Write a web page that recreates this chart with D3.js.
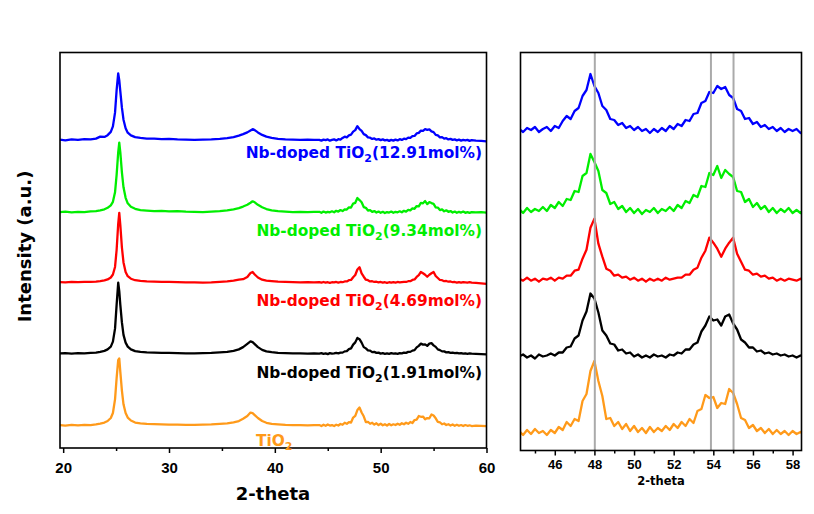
<!DOCTYPE html>
<html><head><meta charset="utf-8">
<script src="https://cdn.jsdelivr.net/npm/d3@7"></script>
<style>body{margin:0;background:#fff}svg{display:block}</style>
</head><body>
<svg id="chart" width="814" height="514"></svg>
<script>
// ---------- DATA ----------
const twoTheta = [
  19.7, 20.2, 20.8, 21.4, 22.0, 22.6,
  23.1, 23.5, 23.9, 24.2, 24.5, 24.7, 24.9, 25.05, 25.2, 25.3, 25.4, 25.55, 25.7, 25.9, 26.1, 26.4, 26.8, 27.3, 27.9,
  28.6, 29.3, 30.0, 30.8, 31.6, 32.4, 33.2, 34.0, 34.8, 35.5,
  36.1, 36.6, 37.0, 37.4, 37.7, 37.9, 38.1, 38.4, 38.8, 39.2, 39.7,
  40.3, 41.0, 41.7, 42.4, 43.1, 43.7,
  44.2, 44.4, 44.6, 44.8, 45.0, 45.2, 45.4, 45.6, 45.8, 46.0,
  46.2, 46.4, 46.6, 46.8, 47.0, 47.2, 47.4, 47.6, 47.8, 48.0,
  48.2, 48.4, 48.6, 48.8, 49.0, 49.2, 49.4, 49.6, 49.8, 50.0,
  50.2, 50.4, 50.6, 50.8, 51.0, 51.2, 51.4, 51.6, 51.8, 52.0,
  52.2, 52.4, 52.6, 52.8, 53.0, 53.2, 53.4, 53.6, 53.8, 54.0,
  54.2, 54.4, 54.6, 54.8, 55.0, 55.2, 55.4, 55.6, 55.8, 56.0,
  56.2, 56.4, 56.6, 56.8, 57.0, 57.2, 57.4, 57.6, 57.8, 58.0,
  58.2, 58.4, 58.6,
  59.0, 59.5, 60.0
];

const intensityNb1291 = [
  2, -1, 3, 1, 4, 3,
  6, 14, 13, 20, 33, 55, 110, 200, 267, 240, 195, 130, 82, 48, 30, 19, 12, 9, 6,
  6, 4, 5, 3, 2, 1, 2, 3, 5, 8,
  12, 18, 24, 31, 39, 44, 40, 31, 21, 14, 9,
  5, 3, 2, 1, 2, 1,
  1, -2, 2, 0, 3, -2, 1, 3, -1, 4,
  2, 9, 14, 11, 19, 22, 34, 40, 56, 44,
  37, 24, 20, 11, 10, 5, 7, 2, 4, 0,
  3, -1, 1, -3, 1, -2, 2, -1, 4, 1,
  6, 4, 10, 9, 16, 17, 27, 29, 38, 37,
  44, 41, 43, 35, 32, 21, 19, 11, 12, 6,
  8, 3, 5, 1, 3, -1, 2, -2, 1, -1,
  1, -3, 0,
  -2, -3, -5
];

const intensityNb934 = [
  1, 3, 0, 2, 1, 4,
  5, 8, 12, 18, 28, 42, 80, 150, 240, 279, 240, 160, 100, 58, 36, 22, 14, 9, 7,
  5, 6, 4, 5, 3, 2, 1, 3, 5, 8,
  12, 17, 23, 30, 38, 44, 40, 30, 20, 13, 8,
  5, 3, 1, 2, 1, 2,
  2, -2, 3, -1, 2, 0, 4, 0, 6, 3,
  9, 5, 12, 11, 20, 19, 35, 38, 57, 49,
  40, 21, 18, 7, 9, 2, 5, -1, 3, -2,
  2, -3, 1, -1, 3, -2, 2, 0, 4, 0,
  6, 3, 10, 8, 16, 14, 25, 24, 38, 36,
  45, 33, 41, 37, 34, 20, 19, 9, 12, 4,
  8, 2, 5, -1, 3, -2, 2, -1, 3, -2,
  1, -2, 1,
  0, 1, -1
];

const intensityNb469 = [
  1, 0, 2, 1, 2, 2,
  3, 5, 8, 12, 20, 32, 62, 130, 235, 279, 230, 140, 80, 42, 25, 15, 9, 6, 4,
  3, 2, 2, 1, 0, 0, -1, 0, 2, 4,
  7, 11, 13, 22, 38, 42, 32, 20, 11, 7, 5,
  3, 2, 1, 0, 1, 0,
  1, -1, 2, -1, 1, -2, 1, 0, 2, -1,
  2, 1, 4, 4, 9, 10, 21, 30, 52, 61,
  36, 23, 11, 9, 4, 5, 2, 3, 0, 2,
  -1, 1, -2, 1, -1, 1, -1, 2, 0, 1,
  2, 2, 5, 5, 10, 12, 22, 29, 42, 37,
  31, 23, 31, 37, 42, 26, 18, 10, 9, 5,
  6, 3, 4, 1, 2, -1, 1, -1, 1, 0,
  -1, 1, -1,
  -2, -4, -6
];

const intensityNb191 = [
  1, 2, 0, 2, 1, 3,
  4, 7, 11, 17, 28, 48, 100, 195, 284, 250, 195, 125, 75, 44, 28, 17, 10, 7, 5,
  4, 3, 3, 2, 1, 1, 2, 3, 5, 7,
  11, 17, 26, 39, 49, 46, 38, 26, 15, 9, 6,
  3, 2, 1, 1, 0, 1,
  0, 2, -1, 1, -2, 2, 0, 1, 3, 1,
  4, 4, 9, 10, 18, 21, 36, 45, 63, 58,
  44, 26, 21, 13, 12, 6, 7, 3, 4, 0,
  2, -1, 1, -1, 2, 0, 1, -1, 2, 1,
  4, 3, 7, 7, 12, 14, 25, 31, 40, 36,
  37, 31, 40, 42, 33, 27, 17, 14, 9, 9,
  5, 6, 3, 4, 2, 3, 1, 2, 0, 1,
  -1, 1, 0,
  -1, -2, -3
];

const intensityTiO2 = [
  2, 0, 3, 1, 3, 2,
  5, 8, 12, 18, 30, 50, 105, 190, 262, 269, 215, 140, 85, 50, 32, 20, 12, 9, 7,
  6, 5, 4, 4, 3, 3, 4, 5, 7, 9,
  13, 18, 27, 38, 52, 50, 42, 30, 18, 11, 7,
  5, 3, 2, 2, 1, 2,
  2, -2, 3, -1, 4, 0, 2, -2, 3, 0,
  6, 3, 11, 7, 14, 12, 32, 39, 62, 72,
  52, 37, 14, 15, 7, 11, 4, 9, 2, 7,
  1, 5, 0, 6, 1, 5, 2, 7, 3, 9,
  5, 11, 7, 14, 10, 22, 24, 38, 35, 36,
  25, 30, 29, 44, 40, 29, 15, 13, 5, 8,
  2, 5, 0, 4, -1, 3, -1, 2, -2, 2,
  -1, 1, -2,
  0, -1, -2
];

const labelMain = ["Nb-doped TiO", "Nb-doped TiO", "Nb-doped TiO", "Nb-doped TiO", "TiO"];
const labelSub = ["2", "2", "2", "2", "2"];
const labelTail = ["(12.91mol%)", "(9.34mol%)", "(4.69mol%)", "(1.91mol%)", ""];

const leftTicks = [20, 30, 40, 50, 60];
const leftMinorTicks = [25, 35, 45, 55];
const rightTicks = [46, 48, 50, 52, 54, 56, 58];
const rightMinorTicks = [45, 47, 49, 51, 53, 55, 57];
const refLines = [48.02, 53.88, 55.02];

// ---------- LAYOUT / STYLE ----------
const seriesValues = [intensityNb1291, intensityNb934, intensityNb469, intensityNb191, intensityTiO2];
const colors = ["#0000ff", "#00ee00", "#ff0000", "#000000", "#ff9a1a"];
const offsetLeft = [1233, 944, 663, 378, 90];      // vertical stacking (data units)
const offsetRight = [320.5, 239.5, 170.8, 94, 17.5];
const labelPos = [
  {x: 482, y: 158, anchor: "end"},
  {x: 482, y: 236, anchor: "end"},
  {x: 482, y: 306, anchor: "end"},
  {x: 482, y: 378, anchor: "end"},
  {x: 256, y: 446, anchor: "start"}
];

const L = {x0: 60, x1: 486.5, y0: 52.5, y1: 448};
const R = {x0: 520.5, x1: 801.5, y0: 52.5, y1: 450.5};

const xL = d3.scaleLinear().domain([19.7, 60]).range([L.x0, L.x1]);
const yL = d3.scaleLinear().domain([0, 1584]).range([L.y1, L.y0]);
const xR = d3.scaleLinear().domain([44.27, 58.45]).range([R.x0, R.x1]);
const yR = d3.scaleLinear().domain([0, 398]).range([R.y1, R.y0]);

const svg = d3.select("#chart");
svg.append("rect").attr("width", 814).attr("height", 514).attr("fill", "#fff");

const defs = svg.append("defs");
defs.append("clipPath").attr("id", "clipL").append("rect")
  .attr("x", L.x0).attr("y", L.y0).attr("width", L.x1 - L.x0).attr("height", L.y1 - L.y0);
defs.append("clipPath").attr("id", "clipR").append("rect")
  .attr("x", R.x0).attr("y", R.y0).attr("width", R.x1 - R.x0).attr("height", R.y1 - R.y0);

// ---------- LEFT PANEL ----------
const gL = svg.append("g").attr("clip-path", "url(#clipL)");
seriesValues.forEach((vals, i) => {
  const pts = twoTheta.map((t, k) => [t, vals[k]]);
  const line = d3.line().x(d => xL(d[0])).y(d => yL(d[1] + offsetLeft[i]));
  gL.append("path").attr("d", line(pts)).attr("fill", "none")
    .attr("stroke", colors[i]).attr("stroke-width", 2.3).attr("stroke-linejoin", "round");
});

// ---------- RIGHT PANEL ----------
const gR = svg.append("g").attr("clip-path", "url(#clipR)");
seriesValues.forEach((vals, i) => {
  const pts = twoTheta.map((t, k) => [t, vals[k]]).filter(d => d[0] >= 44 && d[0] <= 58.7);
  const line = d3.line().x(d => xR(d[0])).y(d => yR(d[1] + offsetRight[i]));
  gR.append("path").attr("d", line(pts)).attr("fill", "none")
    .attr("stroke", colors[i]).attr("stroke-width", 2.3).attr("stroke-linejoin", "round");
});
gR.selectAll("line.ref").data(refLines).enter().append("line")
  .attr("x1", d => xR(d)).attr("x2", d => xR(d))
  .attr("y1", R.y0).attr("y2", R.y1)
  .attr("stroke", "#aaaaaa").attr("stroke-width", 2);

// ---------- FRAMES ----------
svg.append("rect").attr("x", L.x0).attr("y", L.y0).attr("width", L.x1 - L.x0).attr("height", L.y1 - L.y0)
  .attr("fill", "none").attr("stroke", "#000").attr("stroke-width", 1.6);
svg.append("rect").attr("x", R.x0).attr("y", R.y0).attr("width", R.x1 - R.x0).attr("height", R.y1 - R.y0)
  .attr("fill", "none").attr("stroke", "#000").attr("stroke-width", 1.6);

// ---------- AXES ----------
function styleAxis(g, fontSize) {
  g.select(".domain").remove();
  g.selectAll(".tick line").attr("stroke", "#000").attr("stroke-width", 1.5);
  g.selectAll(".tick text").attr("fill", "#000")
    .style("font-family", "'Liberation Sans', Arial, sans-serif")
    .style("font-weight", "bold").style("font-size", fontSize + "px");
}
const axL = svg.append("g").attr("transform", `translate(0,${L.y1})`)
  .call(d3.axisBottom(xL).tickValues(leftTicks).tickSize(5).tickPadding(9.5).tickFormat(d3.format("d")));
styleAxis(axL, 15);
const axLm = svg.append("g").attr("transform", `translate(0,${L.y1})`)
  .call(d3.axisBottom(xL).tickValues(leftMinorTicks).tickSize(3).tickFormat(""));
styleAxis(axLm, 15);

const axR = svg.append("g").attr("transform", `translate(0,${R.y1})`)
  .call(d3.axisBottom(xR).tickValues(rightTicks).tickSize(5).tickPadding(4.6).tickFormat(d3.format("d")));
styleAxis(axR, 13);
const axRm = svg.append("g").attr("transform", `translate(0,${R.y1})`)
  .call(d3.axisBottom(xR).tickValues(rightMinorTicks).tickSize(3).tickFormat(""));
styleAxis(axRm, 13);

// ---------- TITLES ----------
const boldFont = "'DejaVu Sans', sans-serif";
svg.append("text").attr("x", 273).attr("y", 499.5).attr("text-anchor", "middle")
  .style("font-family", boldFont).style("font-weight", "bold").style("font-size", "18px")
  .text("2-theta");
svg.append("text").attr("x", 661).attr("y", 485).attr("text-anchor", "middle")
  .style("font-family", boldFont).style("font-weight", "bold").style("font-size", "11.5px")
  .text("2-theta");
svg.append("text").attr("transform", "translate(30.5,246.5) rotate(-90)").attr("text-anchor", "middle")
  .style("font-family", boldFont).style("font-weight", "bold").style("font-size", "18px")
  .text("Intensity (a.u.)");

// ---------- SERIES LABELS ----------
labelMain.forEach((m, i) => {
  const p = labelPos[i];
  const t = svg.append("text").attr("x", p.x).attr("y", p.y).attr("text-anchor", p.anchor)
    .attr("fill", colors[i])
    .style("font-family", boldFont).style("font-weight", "bold").style("font-size", "15.4px");
  t.append("tspan").text(m);
  t.append("tspan").attr("dy", 4).style("font-size", "11px").text(labelSub[i]);
  if (labelTail[i]) t.append("tspan").attr("dy", -4).text(labelTail[i]);
});
</script>
</body></html>
